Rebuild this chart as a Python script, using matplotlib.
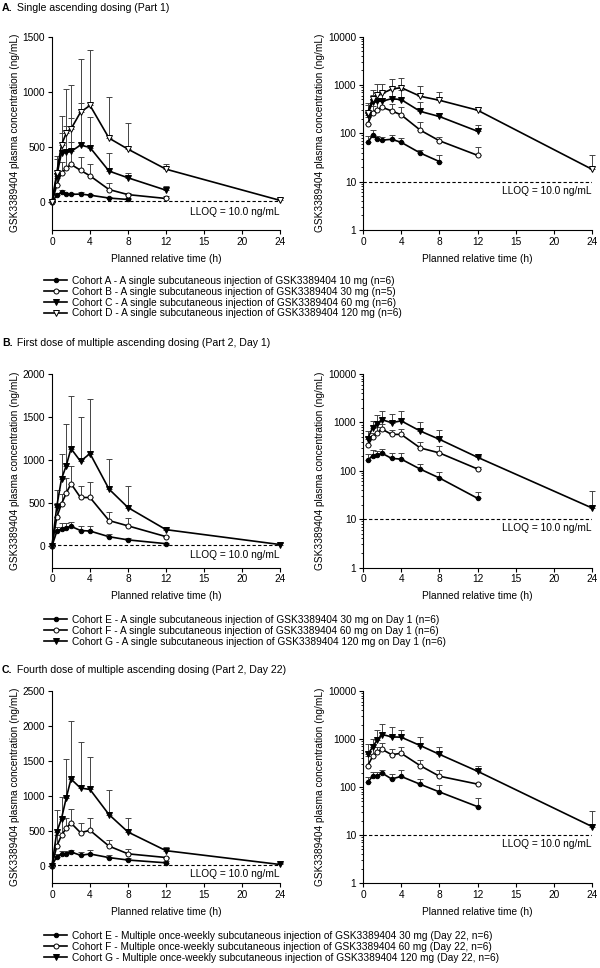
import numpy as np
import matplotlib
matplotlib.use('Agg')
import matplotlib.pyplot as plt

plt.rcParams['font.family'] = ['Liberation Sans', 'DejaVu Sans']

# planned time points (h)
t_all = [0, 0.5, 1, 1.5, 2, 3, 4, 6, 8, 12, 24]
xtick_pos = [0, 4, 8, 12, 16, 20, 24]
xtick_labels = ['0', '4', '8', '12', '15', '20', '24']

# Panel A - single ascending dosing (Part 1)
a_cohA = [0, 65, 90, 75, 72, 75, 65, 39, 26]
a_cohA_sd = [0, 24, 24, 12, 12, 18, 14, 7, 10]
a_cohB = [0, 156, 268, 308, 344, 290, 240, 116, 70, 35]
a_cohB_sd = [0, 60, 100, 150, 200, 120, 110, 55, 15, 18]
a_cohC = [0, 240, 450, 457, 460, 518, 496, 283, 222, 110]
a_cohC_sd = [0, 150, 180, 230, 300, 380, 280, 160, 45, 40]
a_cohD = [0, 268, 520, 627, 664, 815, 877, 581, 481, 300, 18]
a_cohD_sd = [0, 150, 265, 400, 395, 485, 500, 375, 240, 50, 18]

# Panel B - first dose of multiple ascending dosing (Day 1)
b_cohE = [0, 169, 200, 212, 229, 180, 174, 108, 71, 27]
b_cohE_sd = [0, 55, 70, 50, 55, 50, 55, 30, 22, 10]
b_cohF = [0, 335, 490, 615, 724, 564, 564, 296, 234, 109]
b_cohF_sd = [0, 165, 110, 180, 210, 135, 175, 100, 95, 10]
b_cohG = [0, 459, 779, 935, 1133, 985, 1075, 662, 447, 190, 17]
b_cohG_sd = [0, 195, 285, 480, 610, 515, 630, 355, 245, 10, 22]

# Panel C - fourth dose of multiple ascending dosing (Day 22)
c_cohE = [0, 127, 166, 170, 195, 147, 166, 114, 79, 39]
c_cohE_sd = [0, 35, 40, 35, 27, 43, 56, 31, 29, 20]
c_cohF = [0, 278, 432, 537, 609, 471, 504, 278, 168, 115]
c_cohF_sd = [0, 155, 264, 150, 208, 140, 178, 92, 62, 5]
c_cohG = [0, 480, 673, 970, 1239, 1110, 1090, 730, 480, 213, 15]
c_cohG_sd = [0, 320, 310, 560, 825, 657, 470, 350, 207, 55, 17]

labels_A = [
    'Cohort A - A single subcutaneous injection of GSK3389404 10 mg (n=6)',
    'Cohort B - A single subcutaneous injection of GSK3389404 30 mg (n=5)',
    'Cohort C - A single subcutaneous injection of GSK3389404 60 mg (n=6)',
    'Cohort D - A single subcutaneous injection of GSK3389404 120 mg (n=6)',
]
labels_B = [
    'Cohort E - A single subcutaneous injection of GSK3389404 30 mg on Day 1 (n=6)',
    'Cohort F - A single subcutaneous injection of GSK3389404 60 mg on Day 1 (n=6)',
    'Cohort G - A single subcutaneous injection of GSK3389404 120 mg on Day 1 (n=6)',
]
labels_C = [
    'Cohort E - Multiple once-weekly subcutaneous injection of GSK3389404 30 mg (Day 22, n=6)',
    'Cohort F - Multiple once-weekly subcutaneous injection of GSK3389404 60 mg (Day 22, n=6)',
    'Cohort G - Multiple once-weekly subcutaneous injection of GSK3389404 120 mg (Day 22, n=6)',
]

styles = {
    'fc': dict(marker='o', mfc='black', ms=3.2),
    'oc': dict(marker='o', mfc='white', ms=3.6),
    'ft': dict(marker='v', mfc='black', ms=4.0),
    'ot': dict(marker='v', mfc='white', ms=4.4),
}

panels = [
    ('A.', ' Single ascending dosing (Part 1)', 1500, [500, 1000, 1500],
     [(a_cohA, a_cohA_sd, 'fc'), (a_cohB, a_cohB_sd, 'oc'),
      (a_cohC, a_cohC_sd, 'ft'), (a_cohD, a_cohD_sd, 'ot')], labels_A),
    ('B.', ' First dose of multiple ascending dosing (Part 2, Day 1)', 2000, [500, 1000, 1500, 2000],
     [(b_cohE, b_cohE_sd, 'fc'), (b_cohF, b_cohF_sd, 'oc'), (b_cohG, b_cohG_sd, 'ft')], labels_B),
    ('C.', ' Fourth dose of multiple ascending dosing (Part 2, Day 22)', 2500, [500, 1000, 1500, 2000, 2500],
     [(c_cohE, c_cohE_sd, 'fc'), (c_cohF, c_cohF_sd, 'oc'), (c_cohG, c_cohG_sd, 'ft')], labels_C),
]

W, H = 600, 968
fig = plt.figure(figsize=(W / 100, H / 100), dpi=100)
fs = 7.3

# pixel layout (top of axes, bottom of axes) for each panel
rows = [(36.5, 230), (374, 567.5), (691, 883)]
title_y = [8, 343, 670]
legend_y = [276, 615, 931]


def style_ax(ax):
    for s in ['top', 'right']:
        ax.spines[s].set_visible(False)
    ax.tick_params(labelsize=fs, length=3, width=0.8, direction='out', pad=2)
    ax.spines['left'].set_linewidth(0.8)
    ax.spines['bottom'].set_linewidth(0.8)
    ax.set_xlim(0, 24)
    ax.set_xticks(xtick_pos)
    ax.set_xticklabels(xtick_labels)
    ax.set_xlabel('Planned relative time (h)', fontsize=fs, labelpad=5)
    ax.set_ylabel('GSK3389404 plasma concentration (ng/mL)', fontsize=fs, labelpad=2)
    ax.spines['bottom'].set_bounds(0, 24)


for i, (tag, title, ymax, yt, series, labels) in enumerate(panels):
    top, bot = rows[i]
    y0 = 1 - bot / H
    h = (bot - top) / H
    ax1 = fig.add_axes([52 / W, y0, 228 / W, h])
    ax2 = fig.add_axes([363 / W, y0, 229 / W, h])
    fig.text(2 / W, 1 - title_y[i] / H, tag, fontsize=fs + 0.3, fontweight='bold', va='center')
    fig.text(14 / W, 1 - title_y[i] / H, title, fontsize=fs + 0.3, va='center')

    handles = []
    for vals, sd, st in series:
        n = len(vals)
        t = t_all[:n]
        kw = styles[st]
        # linear
        eb = ax1.errorbar(t, vals, yerr=[np.zeros(n), sd], fmt='none', ecolor='#444444',
                          elinewidth=0.7, capsize=2.5, capthick=0.7, zorder=2)
        for art in eb.lines[1] + eb.lines[2]:
            art.set_clip_on(False)
        ln, = ax1.plot(t, vals, color='black', lw=1.2, mec='black', mew=0.7, zorder=3,
                       clip_on=False, **kw)
        handles.append(ln)
        # log (time 0 excluded)
        eb = ax2.errorbar(t[1:], vals[1:], yerr=[np.zeros(n - 1), sd[1:]], fmt='none', ecolor='#444444',
                          elinewidth=0.7, capsize=2.5, capthick=0.7, zorder=2)
        for art in eb.lines[1] + eb.lines[2]:
            art.set_clip_on(False)
        ax2.plot(t[1:], vals[1:], color='black', lw=1.2, mec='black', mew=0.7, zorder=3,
                 clip_on=False, **kw)

    # linear axis
    ax1.set_ylim(-250, ymax)
    ax1.set_yticks([0] + yt)
    ax1.spines['left'].set_bounds(-250, ymax)
    ax1.axhline(10, color='black', lw=0.8, ls=(0, (3, 2)), zorder=1)
    ax1.text(24, -45, 'LLOQ = 10.0 ng/mL', ha='right', va='top', fontsize=fs)
    style_ax(ax1)

    # log axis
    ax2.set_yscale('log')
    ax2.set_ylim(1, 10000)
    ax2.set_yticks([1, 10, 100, 1000, 10000])
    ax2.set_yticklabels(['1', '10', '100', '1000', '10000'])
    ax2.axhline(10, color='black', lw=0.8, ls=(0, (3, 2)), zorder=1)
    ax2.text(24, 8.2, 'LLOQ = 10.0 ng/mL', ha='right', va='top', fontsize=fs)
    style_ax(ax2)
    ax2.tick_params(axis='y', which='minor', length=1.8, width=0.6)

    fig.legend(handles, labels, loc='upper left', bbox_to_anchor=(44 / W, 1 - legend_y[i] / H),
               frameon=False, fontsize=fs, handlelength=2.3, handletextpad=0.5,
               labelspacing=0.08, borderpad=0, borderaxespad=0)

fig.savefig('out.png', dpi=100)
